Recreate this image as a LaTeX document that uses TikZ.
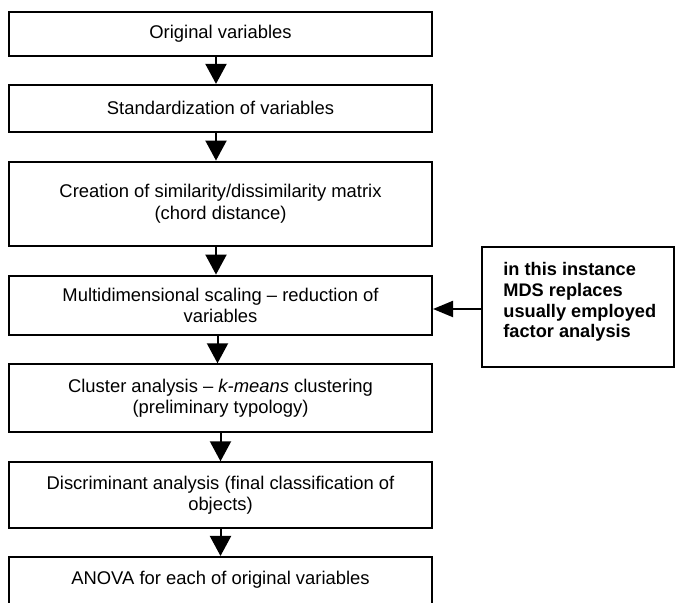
\documentclass[tikz,border=0pt]{standalone}
\usepackage{fontspec}
\setmainfont{Liberation Sans}
\usetikzlibrary{arrows.meta}
\tikzset{
  stepbox/.style={draw, line width=1pt, minimum width=211.5pt, inner sep=0pt,
    align=center, font=\fontsize{9.2}{10.6}\selectfont},
  flow/.style={line width=1pt, -{Triangle[length=10pt,width=10.5pt]}},
  sideflow/.style={line width=1pt, -{Triangle[length=10pt,width=8pt]}},
  notebox/.style={draw, line width=1pt, minimum width=96pt, minimum height=60pt, inner sep=0pt},
  notetext/.style={inner sep=0pt, align=left, font=\fontsize{9.1}{10.4}\selectfont\bfseries},
}
\begin{document}
\begin{tikzpicture}[x=0.5pt, y=-0.5pt]
% 1 unit = 1px of the 675x603 sheet, y runs down
\clip (0,0) rectangle (675,603);
% 220.5 = (9+432)/2 = centre of the column of steps
\node[stepbox, minimum height=22pt] (orig) at (220.5,34) {Original variables};
\node[stepbox, minimum height=23.4pt] (stand) at (220.5,108.3) {Standardization of variables};
\node[stepbox, minimum height=42.2pt] (simil) at (220.5,203.8)
  {Creation of similarity/dissimilarity matrix\\(chord distance)};
\node[stepbox, minimum height=29.7pt] (mds) at (220.5,305.3)
  {Multidimensional scaling -- reduction of\\variables};
\node[stepbox, minimum height=34pt] (clust) at (220.5,398.3)
  {Cluster analysis -- \textit{k-means} clustering\\(preliminary typology)};
\node[stepbox, minimum height=32.7pt] (discr) at (220.5,495)
  {Discriminant analysis (final classification of\\objects)};
% last box runs off the bottom of the sheet
\node[stepbox, anchor=north, inner ysep=4pt, text height=10pt, text depth=30pt] (anova) at (220.5,556)
  {ANOVA for each of original variables};
% side remark
\node[notebox] (note) at (578,307) {};
\node[notetext, anchor=north west] (notetxt) at (503,262)
  {in this instance\\MDS replaces\\usually employed\\factor analysis};
\foreach \a/\b/\dx in {orig/stand/-4.5, stand/simil/-4.5, simil/mds/-4.5,
    mds/clust/-3, clust/discr/0, discr/anova/0}{
  \draw[flow] ([xshift=\dx*0.5pt]\a.south) -- ([xshift=\dx*0.5pt]\b.north);
}
\draw[sideflow] ([yshift=-1pt]note.west) -- ([yshift=-1pt]note.west -| mds.east);
\end{tikzpicture}
\end{document}
